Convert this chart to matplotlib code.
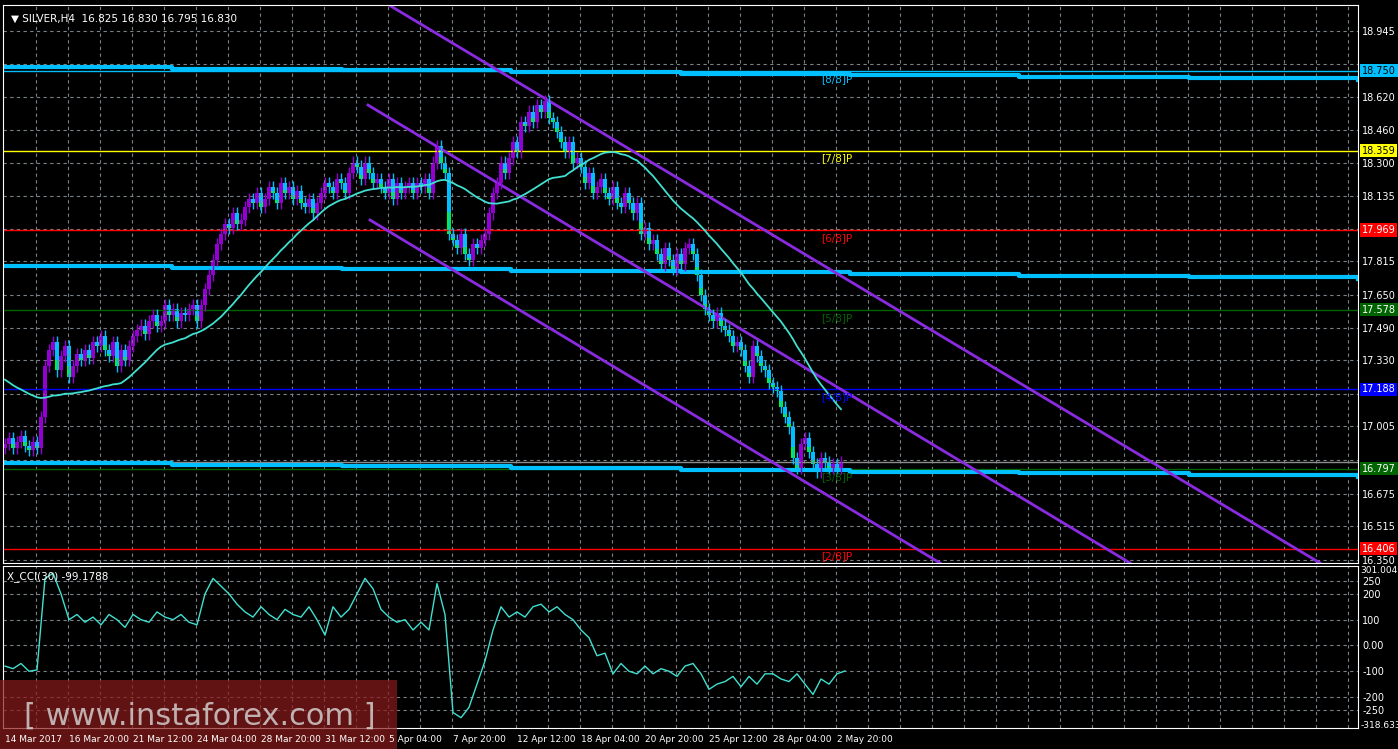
import matplotlib.pyplot as plt
import numpy as np
import pandas as pd

# H4 closes, SILVER (bar spacing = 4 px)
closes = [16.92,16.95,16.90,16.93,16.96,16.91,16.89,16.93,16.90,17.05,
          17.30,17.38,17.42,17.28,17.35,17.40,17.25,17.30,17.36,17.33,
          17.38,17.34,17.42,17.40,17.45,17.38,17.35,17.42,17.30,17.38,
          17.33,17.40,17.45,17.48,17.50,17.46,17.52,17.55,17.50,17.52,
          17.60,17.55,17.58,17.52,17.56,17.55,17.58,17.60,17.52,17.60,
          17.68,17.75,17.82,17.90,17.95,18.00,17.98,18.05,18.00,18.02,
          18.08,18.12,18.10,18.15,18.08,18.12,18.18,18.15,18.10,18.20,
          18.15,18.18,18.12,18.16,18.10,18.08,18.12,18.05,18.10,18.15,
          18.20,18.18,18.15,18.22,18.20,18.15,18.25,18.30,18.28,18.22,
          18.30,18.25,18.20,18.22,18.18,18.15,18.22,18.12,18.20,18.15,
          18.18,18.20,18.15,18.20,18.18,18.22,18.15,18.30,18.38,18.30,
          18.25,17.95,17.92,17.88,17.95,17.85,17.82,17.90,17.88,17.92,
          17.95,18.05,18.15,18.20,18.30,18.25,18.32,18.40,18.35,18.50,
          18.48,18.55,18.50,18.58,18.55,18.60,18.52,18.50,18.45,18.40,
          18.35,18.40,18.30,18.32,18.28,18.20,18.25,18.15,18.18,18.22,
          18.15,18.12,18.18,18.10,18.08,18.15,18.10,18.05,18.10,17.95,
          17.98,17.90,17.92,17.85,17.80,17.88,17.82,17.78,17.85,17.80,
          17.88,17.90,17.85,17.75,17.65,17.58,17.55,17.52,17.56,17.50,
          17.48,17.45,17.40,17.42,17.38,17.30,17.25,17.40,17.35,17.30,
          17.28,17.22,17.20,17.18,17.10,17.05,17.00,16.85,16.80,16.92,
          16.95,16.88,16.82,16.78,16.85,16.83,16.80,16.82,16.80,16.83]
first_open = 16.90

# CCI(30), one value every 2 bars
cci = [-80,-90,-70,-100,-95,260,280,200,100,120,
       90,110,80,120,100,70,120,100,90,130,
       110,100,120,90,80,200,260,230,200,160,
       130,110,150,120,100,140,120,110,150,100,
       40,150,110,140,200,260,220,140,110,90,
       100,60,90,60,240,120,-260,-280,-240,-150,
       -60,60,150,110,130,110,150,160,130,150,
       120,100,60,30,-40,-30,-110,-70,-100,-110,
       -80,-110,-90,-100,-120,-80,-70,-110,-170,-150,
       -140,-120,-160,-120,-150,-110,-110,-130,-140,-110,
       -150,-190,-130,-150,-110,-99]

# Murrey levels
mm_levels = [18.750, 18.359, 17.969, 17.578, 17.188, 16.797, 16.406]
mm_names = ['[8/8]P', '[7/8]P', '[6/8]P', '[5/8]P', '[4/8]P', '[3/8]P', '[2/8]P']
mm_colors = ['#00BFFF', '#FFFF00', '#FF0000', '#006400', '#0000FF', '#006400', '#FF0000']

# thick sloping cyan levels (left price, right price)
cyan_levels = [(18.768, 18.705), (17.792, 17.730), (16.826, 16.757)]

# channel lines: (bar0, price0, bar1, price1)
channel = [(96.25, 19.07, 328.75, 16.335),
           (90.75, 18.582, 281.25, 16.335),
           (91.25, 18.018, 233.75, 16.335)]

price_ticks = [18.945, 18.785, 18.620, 18.460, 18.300, 18.135, 17.975, 17.815, 17.650,
               17.490, 17.330, 17.165, 17.005, 16.840, 16.675, 16.515, 16.350]
price_shown = [18.945, 18.620, 18.460, 18.300, 18.135, 17.815, 17.650, 17.490, 17.330,
               17.005, 16.675, 16.515, 16.350]
cci_ticks = [250, 200, 100, 0, -100, -200, -250]
cci_labels = ['250', '200', '100', '0.00', '-100', '-200', '-250']
date_labels = ['14 Mar 2017', '16 Mar 20:00', '21 Mar 12:00', '24 Mar 04:00', '28 Mar 20:00',
               '31 Mar 12:00', '5 Apr 04:00', '7 Apr 20:00', '12 Apr 12:00', '18 Apr 04:00',
               '20 Apr 20:00', '25 Apr 12:00', '28 Apr 04:00', '2 May 20:00']

W, H = 1398, 749
fig = plt.figure(figsize=(W / 100, H / 100), dpi=100, facecolor='black')
x0, x1 = 3, 1358
ax = fig.add_axes([x0 / W, 1 - 563 / H, (x1 - x0) / W, (563 - 5) / H], facecolor='black')
ax2 = fig.add_axes([x0 / W, 1 - 728 / H, (x1 - x0) / W, (728 - 566) / H], facecolor='black')
xl = ((x0 - 5) / 4, (x1 - 5) / 4)

for a in (ax, ax2):
    a.set_xlim(*xl)
    for s in a.spines.values():
        s.set_color('white')
    a.tick_params(colors='white', labelsize=7, length=0, direction='in', pad=3)
    a.yaxis.tick_right()
    a.set_xticks(np.arange(7.75, 340, 8))
    a.set_xticklabels([])
    a.grid(True, color='#7a8087', ls=(0, (3, 3)), lw=0.8)

ax.set_ylim(16.335, 19.073)
ax.set_yticks(price_ticks)
ax.set_yticklabels([f'{v:.3f}' if v in price_shown else '' for v in price_ticks])
ax2.set_ylim(-320, 308)
ax2.set_yticks(cci_ticks)
ax2.set_yticklabels(cci_labels)

# horizontal levels
for lv, nm, col in zip(mm_levels, mm_names, mm_colors):
    ax.axhline(lv, color=col, lw=1)
    ax.text(204, lv - 0.015, nm, color=col, fontsize=7.5, va='top')
    ax.text(1.003, lv, f'{lv:.3f}', transform=ax.get_yaxis_transform(), fontsize=7,
            color='white' if col in ('#FF0000', '#0000FF', '#006400') else 'black',
            va='center', ha='left', bbox=dict(fc=col, ec='none', pad=1.2), clip_on=False)
ax.axhline(closes[-1], color='#8c8c8c', lw=1)

for left, right in cyan_levels:
    xs = np.linspace(xl[0], xl[1], 9)
    ys = np.linspace(left, right, 9)
    ax.step(xs, ys, where='post', color='#00BFFF', lw=3)

for b0, p0, b1, p1 in channel:
    ax.plot([b0, b1], [p0, p1], color='#8A2BE2', lw=2)

# candles
opens = [first_open] + closes[:-1]
for i, (o, c) in enumerate(zip(opens, closes)):
    col = '#9400D3' if c >= o else '#00BFFF'
    hi = max(o, c) + 0.03
    lo = min(o, c) - 0.03
    ax.vlines(i, lo, hi, color=col, lw=1)
    body = max(abs(c - o), 0.006)
    ax.bar(i, body, bottom=min(o, c), width=0.8, color=col, edgecolor='none')
    if c < o:
        ax.bar(i, body * 0.35, bottom=min(o, c), width=0.8, color='#00FF00', edgecolor='none')

ma = pd.Series([17.25] * 20 + closes).rolling(30, min_periods=1).mean().values[20:]
ax.plot(range(len(closes)), ma, color='#40E0D0', lw=1.3)

ax2.plot(np.arange(len(cci)) * 2, cci, color='#40E0D0', lw=1)

ax.text(0.006, 0.985, '\u25bc SILVER,H4  16.825 16.830 16.795 16.830', transform=ax.transAxes,
        color='white', fontsize=7.5, va='top')
ax2.text(0.003, 0.97, 'X_CCI(30) -99.1788', transform=ax2.transAxes, color='white',
         fontsize=7.5, va='top')
ax2.text(1.002, 1.0, '301.0049', transform=ax2.transAxes, color='white', fontsize=6.5,
         va='top', clip_on=False)
ax2.text(1.002, 0.015, '-318.633', transform=ax2.transAxes, color='white', fontsize=6.5,
         va='center', clip_on=False)

for k, lab in enumerate(date_labels):
    fig.text((5 + 64 * k) / W, 1 - 739 / H, lab, color='white', fontsize=6.5, va='center')

# watermark
fig.patches.append(plt.Rectangle((0, 1 - 749 / H), 397 / W, 69 / H, transform=fig.transFigure,
                                 facecolor='#8B1A1A', alpha=0.7, edgecolor='none'))
fig.text(200 / W, 1 - 716 / H, '[ www.instaforex.com ]', color='#d8d8d8', fontsize=22,
         ha='center', va='center', alpha=0.8)

fig.savefig('out.png', dpi=100, facecolor='black')
